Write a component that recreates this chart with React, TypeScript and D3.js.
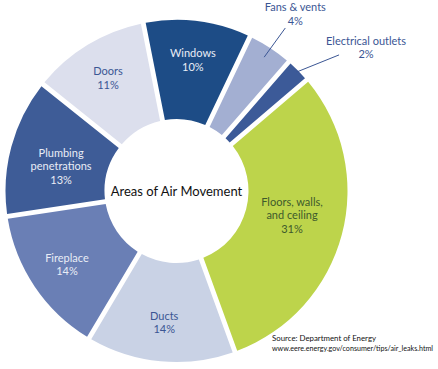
import React from "react";
import * as d3 from "d3";

const categories = [
  "Windows",
  "Fans & vents",
  "Electrical outlets",
  "Floors, walls, and ceiling",
  "Ducts",
  "Fireplace",
  "Plumbing penetrations",
  "Doors",
];
const percents = [10, 4, 2, 31, 14, 14, 13, 11];
const labelLines = [
  ["Windows"],
  ["Fans & vents"],
  ["Electrical outlets"],
  ["Floors, walls,", "and ceiling"],
  ["Ducts"],
  ["Fireplace"],
  ["Plumbing", "penetrations"],
  ["Doors"],
];
const fills = ["#1d4c86", "#a3afd2", "#3c5a98", "#bdd44b", "#c9d2e5", "#6a7fb5", "#3e5c97", "#dcdfed"];
const textColors = ["#e9edf6", "#3b5694", "#3b5694", "#3e5a2c", "#3b5694", "#e9edf6", "#e9edf6", "#3b5694"];
const outsideLabel = [false, true, true, false, false, false, false, false];
const centerTitle = "Areas of Air Movement";
const sourceLines = ["Source: Department of Energy", "www.eere.energy.gov/consumer/tips/air_leaks.html"];

const W = 438;
const H = 369;
const cx = 176.5;
const cy = 191;
const rInner = 72;
const rOuter = 171;
const deg = Math.PI / 180;
const FONT = "Lato, 'Open Sans', sans-serif";

export default function App() {
  const data = categories.map((c, i) => ({ name: c, value: percents[i], i }));
  const start = -11.2 * deg;
  const pie = d3
    .pie<any>()
    .sort(null)
    .value((d: any) => d.value)
    .startAngle(start)
    .endAngle(start + 2 * Math.PI)
    .padAngle(0.026);
  const arcs = pie(data);
  const arc = d3.arc<any>().innerRadius(rInner).outerRadius(rOuter);

  const polar = (r: number, a: number) => [Math.sin(a) * r, -Math.cos(a) * r];

  return (
    <div style={{ position: "fixed", left: 0, top: 0, width: W, height: H, background: "#fff" }}>
      <svg width={W} height={H} style={{ display: "block" }}>
        <rect width={W} height={H} fill="#fff" />
        <g transform={`translate(${cx},${cy})`}>
          {arcs.map((a: any) => (
            <path key={a.data.name} d={arc(a) || ""} fill={fills[a.data.i]} />
          ))}
          {arcs.map((a: any) => {
            const i = a.data.i;
            const mid = (a.startAngle + a.endAngle) / 2;
            const lines = [...labelLines[i], `${percents[i]}%`];
            const lh = 13.5;
            if (outsideLabel[i]) {
              const isFans = i === 1;
              const p0 = polar(isFans ? 160 : 169, mid);
              const p1 = isFans ? polar(196, mid + 0.5 * deg) : polar(212, mid + 4.8 * deg);
              const tx = isFans ? p1[0] + 10 : p1[0] + 27;
              const ty = isFans ? p1[1] - 17 : p1[1] - 10;
              return (
                <g key={"l" + i}>
                  <line x1={p0[0]} y1={p0[1]} x2={p1[0]} y2={p1[1]} stroke="#3b5694" strokeWidth={1} />
                  {lines.map((t, k) => (
                    <text
                      key={k}
                      x={tx}
                      y={ty + k * lh}
                      textAnchor="middle"
                      fontFamily={FONT}
                      fontSize={11}
                      fill={textColors[i]}
                    >
                      {t}
                    </text>
                  ))}
                </g>
              );
            }
            const multi = labelLines[i].length > 1;
            const r = multi ? 118 : 132;
            const [lx, ly] = polar(r, mid - (multi ? 3 * deg : 0));
            const y0 = ly - ((lines.length - 1) * lh) / 2 + 4;
            return (
              <g key={"l" + i}>
                {lines.map((t, k) => (
                  <text
                    key={k}
                    x={lx}
                    y={y0 + k * lh}
                    textAnchor="middle"
                    fontFamily={FONT}
                    fontSize={11}
                    fill={textColors[i]}
                  >
                    {t}
                  </text>
                ))}
              </g>
            );
          })}
          <text x={0} y={5} textAnchor="middle" fontFamily={FONT} fontSize={13} fill="#111">
            {centerTitle}
          </text>
        </g>
        <text x={272} y={341} fontFamily={FONT} fontSize={8} fill="#111" textLength={104} lengthAdjust="spacingAndGlyphs">
          {sourceLines[0]}
        </text>
        <text x={272} y={351} fontFamily={FONT} fontSize={8} fill="#111" textLength={161} lengthAdjust="spacingAndGlyphs">
          {sourceLines[1]}
        </text>
      </svg>
    </div>
  );
}
